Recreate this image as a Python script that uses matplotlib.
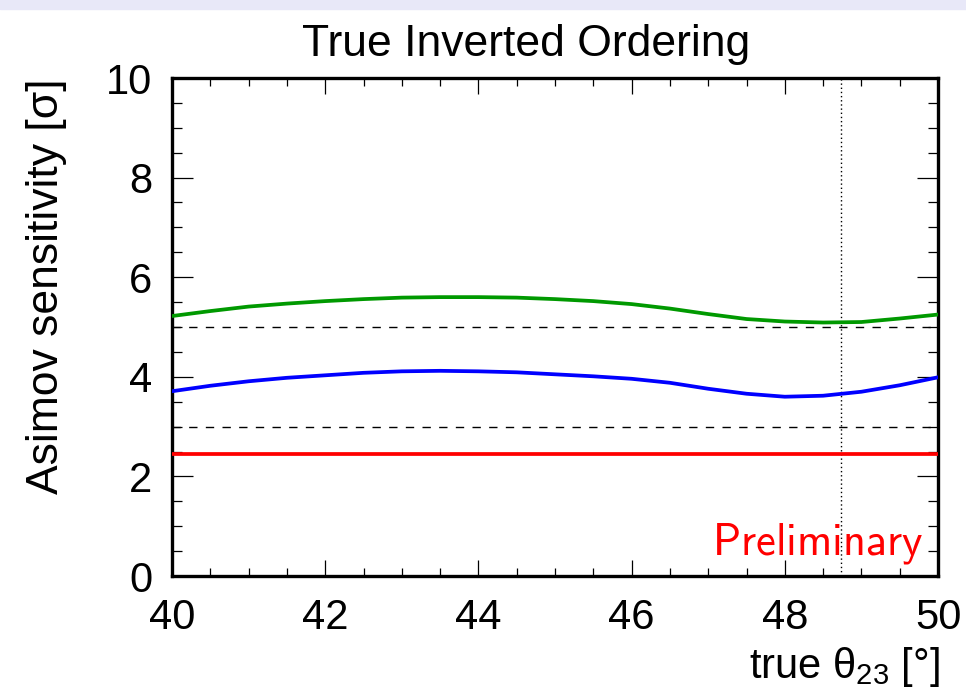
import matplotlib
matplotlib.use("Agg")
import matplotlib.pyplot as plt
from matplotlib.patches import Rectangle

plt.rcParams["font.family"] = ["Liberation Sans", "DejaVu Sans"]
plt.rcParams["mathtext.fontset"] = "custom"
plt.rcParams["mathtext.rm"] = "Liberation Sans"
plt.rcParams["mathtext.it"] = "Liberation Sans:italic"

# true theta23 [deg]
theta = [40.0, 40.5, 41.0, 41.5, 42.0, 42.5, 43.0, 43.5, 44.0, 44.5, 45.0,
         45.5, 46.0, 46.5, 47.0, 47.5, 48.0, 48.5, 49.0, 49.5, 50.0]
# Asimov sensitivity [sigma]
green = [5.22, 5.32, 5.41, 5.47, 5.52, 5.56, 5.59, 5.60, 5.60, 5.59, 5.56,
         5.52, 5.46, 5.37, 5.26, 5.16, 5.11, 5.09, 5.10, 5.17, 5.25]
blue = [3.71, 3.82, 3.91, 3.98, 4.03, 4.08, 4.11, 4.12, 4.11, 4.09, 4.05,
        4.01, 3.96, 3.88, 3.76, 3.66, 3.60, 3.62, 3.70, 3.83, 3.99]
red = [2.44] * len(theta)
sigma_levels = [3, 5]
theta_best = 48.73

W, H = 966, 694
fig = plt.figure(figsize=(W / 100, H / 100), dpi=100)
# light band along the top edge
fig.patches.append(Rectangle((0, 1 - 9 / H), 1, 9 / H, transform=fig.transFigure,
                             color="#e8e8f8", zorder=0))

ax = fig.add_axes([172 / W, 1 - 576 / H, (938 - 172) / W, (576 - 78) / H])

for lvl in sigma_levels:
    ax.axhline(lvl, color="black", lw=1.0, ls=(0, (6, 6)), zorder=1)
ax.axvline(theta_best, color="black", lw=1.0, ls=(0, (1, 2)), zorder=1)

ax.plot(theta, green, color="#009900", lw=2.7, zorder=3)
ax.plot(theta, blue, color="#0000ff", lw=2.7, zorder=3)
ax.plot(theta, red, color="#ff0000", lw=2.7, zorder=3)

ax.set_xlim(40, 50)
ax.set_ylim(0, 10)
ax.set_xticks([40, 42, 44, 46, 48, 50])
ax.set_yticks([0, 2, 4, 6, 8, 10])
ax.set_xticks([40 + 0.5 * i for i in range(21)], minor=True)
ax.set_yticks([0.5 * i for i in range(21)], minor=True)

for s in ax.spines.values():
    s.set_linewidth(2.4)
ax.tick_params(which="both", direction="in", top=True, right=True, width=0.9, labelsize=30)
ax.tick_params(axis="y", which="major", length=15, pad=14)
ax.tick_params(axis="y", which="minor", length=7.5)
ax.tick_params(axis="x", which="major", length=11.5, pad=16)
ax.tick_params(axis="x", which="minor", length=6)

fig.text(302 / W, 1 - 56 / H, "True Inverted Ordering", fontsize=32,
         ha="left", va="baseline")
fig.text(47 / W, 1 - 78 / H, "Asimov sensitivity [σ]", fontsize=32,
         rotation=90, ha="center", va="top")
fig.text(940 / W, 1 - 678 / H, "true θ$_{23}$ [°]", fontsize=30,
         ha="right", va="baseline")
fig.text(923 / W, 1 - 555 / H, r"$\mathsf{Preliminary}$", fontsize=32,
         color="#ff0000", ha="right", va="baseline", math_fontfamily="cm")

fig.savefig("out.png", dpi=100)
